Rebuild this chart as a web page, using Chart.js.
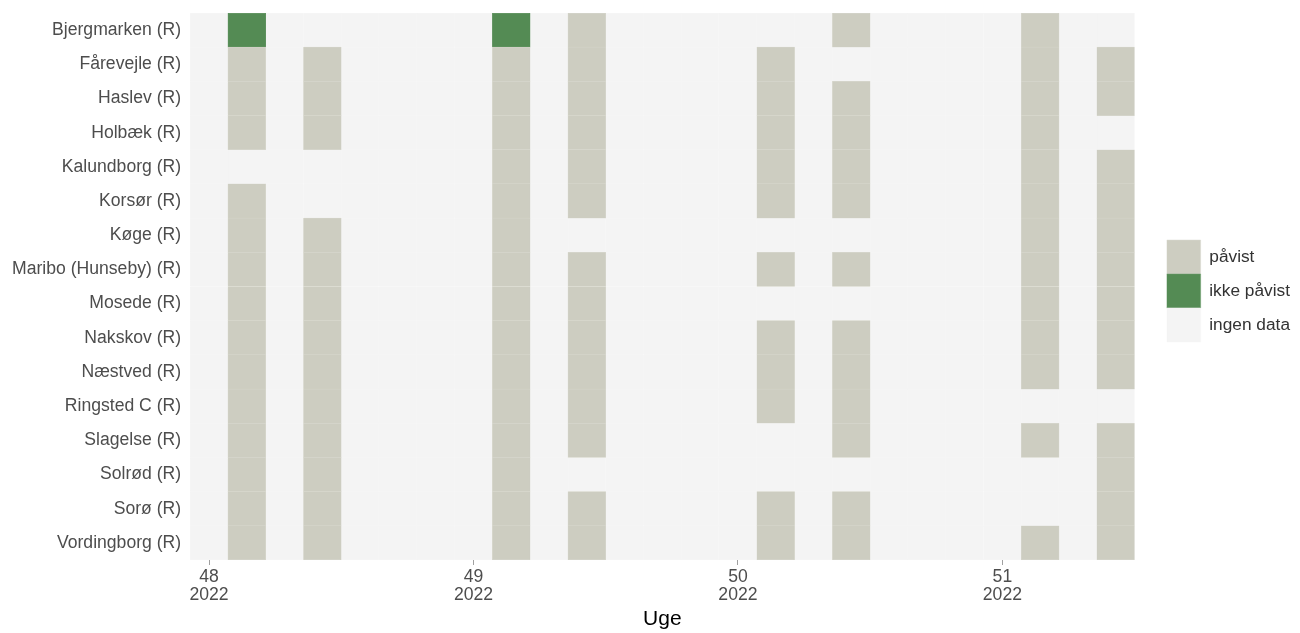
<!DOCTYPE html>
<html>
<head>
<meta charset="utf-8">
<script src="https://cdn.jsdelivr.net/npm/chart.js@4.4.0/dist/chart.umd.min.js"></script>
<style>
  html, body { margin: 0; padding: 0; background: #ffffff; }
  #wrap { width: 1300px; height: 633px; }
</style>
</head>
<body>
<div id="wrap"><canvas id="heatmap"></canvas></div>
<script>
// Prøvesteder (rækker, oppefra og ned)
const sites = [
    'Bjergmarken (R)', 'Fårevejle (R)', 'Haslev (R)', 'Holbæk (R)',
    'Kalundborg (R)', 'Korsør (R)', 'Køge (R)', 'Maribo (Hunseby) (R)',
    'Mosede (R)', 'Nakskov (R)', 'Næstved (R)', 'Ringsted C (R)',
    'Slagelse (R)', 'Solrød (R)', 'Sorø (R)', 'Vordingborg (R)'
];

// Prøvedatoer (kolonner)
const sampleDates = [
    '2022-11-29', '2022-12-01', '2022-12-06', '2022-12-08',
    '2022-12-13', '2022-12-15', '2022-12-20', '2022-12-22'
];

// Resultat pr. prøvested, et tegn pr. prøvedato
// P = påvist, N = ikke påvist, - = ingen data
const results = [
    'N-NP-PP-',
    'PPPPP-PP',
    'PPPPPPPP',
    'PPPPPPP-',
    '--PPPPPP',
    'P-PPPPPP',
    'PPP---PP',
    'PPPPPPPP',
    'PPPP--PP',
    'PPPPPPPP',
    'PPPPPPPP',
    'PPPPPP--',
    'PPPP-PPP',
    'PPP----P',
    'PPPPPP-P',
    'PPPPPPPP'
];

// Første og sidste dag på x-aksen
const firstDay = '2022-11-28';
const lastDay = '2022-12-22';

// Uge-ticks på x-aksen
const weekTicks = ['2022-11-28', '2022-12-05', '2022-12-12', '2022-12-19'];
const weekLabels = [['48', '2022'], ['49', '2022'], ['50', '2022'], ['51', '2022']];

// Kategorier og farver
const statusCodes = ['P', 'N', '-'];
const statusLabels = ['påvist', 'ikke påvist', 'ingen data'];
const statusColors = ['#CDCDC1', '#548B54', '#F4F4F4'];
const statusBorders = ['#DBDBD2', '#6A9A6A', '#F6F6F6'];

function dayIndex(d) {
    return Math.round((Date.parse(d) - Date.parse(firstDay)) / 86400000);
}

const nDays = dayIndex(lastDay) + 1;
const sampleIdx = sampleDates.map(dayIndex);

// Bygger en celle pr. prøvested og dag
const cells = statusCodes.map(() => []);
sites.forEach((site, i) => {
    for (let d = 0; d < nDays; d++) {
        const k = sampleIdx.indexOf(d);
        const code = k >= 0 ? results[i][k] : '-';
        cells[statusCodes.indexOf(code)].push({ x: [d - 0.5, d + 0.5], y: site });
    }
});

const FONT = 'Liberation Sans, Arial, sans-serif';

// Flytter legenden lidt væk fra plotområdet
const legendShift = {
    id: 'legendShift',
    afterLayout(chart) {
        chart.legend.left += 32;
        chart.legend.right += 32;
    }
};

const ctx = document.getElementById('heatmap').getContext('2d');
const heatmap = new Chart(ctx, {
    type: 'bar',
    data: {
        labels: sites,
        datasets: statusLabels.map((label, j) => ({
            label: label,
            data: cells[j],
            backgroundColor: statusColors[j],
            borderColor: statusBorders[j],
            borderWidth: 0.5,
            borderSkipped: false,
            barPercentage: 1,
            categoryPercentage: 1,
            grouped: false
        }))
    },
    options: {
        indexAxis: 'y',
        responsive: true,
        maintainAspectRatio: false,
        animation: false,
        layout: {
            padding: { top: 13, right: 32, bottom: 0, left: 3 }
        },
        plugins: {
            tooltip: { enabled: false },
            legend: {
                position: 'right',
                align: 'center',
                fullSize: false,
                title: {
                    display: true,
                    text: '',
                    font: { size: 1, lineHeight: 1 },
                    padding: { top: 8, bottom: 0 }
                },
                labels: {
                    boxWidth: 34,
                    boxHeight: 34,
                    padding: 0,
                    color: '#333333',
                    font: { family: FONT, size: 17.3 }
                }
            }
        },
        scales: {
            x: {
                type: 'linear',
                min: -0.5,
                max: nDays - 0.5,
                afterBuildTicks: axis => {
                    axis.ticks = weekTicks.map(d => ({ value: dayIndex(d) }));
                },
                afterFit: scale => {
                    scale.height = 73;
                },
                ticks: {
                    callback: (value, index) => weekLabels[index],
                    color: '#4D4D4D',
                    font: { family: FONT, size: 17.6, lineHeight: 1.03 },
                    padding: 3,
                    maxRotation: 0,
                    autoSkip: false
                },
                grid: {
                    display: true,
                    drawOnChartArea: false,
                    drawTicks: true,
                    tickLength: 5,
                    tickColor: '#A0A0A0',
                    tickWidth: 1
                },
                border: { display: false },
                title: {
                    display: true,
                    text: 'Uge',
                    color: '#000000',
                    font: { family: FONT, size: 21 },
                    padding: { top: 0, bottom: 1 }
                }
            },
            y: {
                type: 'category',
                offset: true,
                afterFit: scale => {
                    scale.paddingTop = 0;
                    scale.paddingBottom = 0;
                },
                grid: { display: false, drawTicks: false },
                border: { display: false },
                ticks: {
                    color: '#4D4D4D',
                    font: { family: FONT, size: 17.6 },
                    padding: 9
                }
            }
        }
    },
    plugins: [legendShift]
});
</script>
</body>
</html>
